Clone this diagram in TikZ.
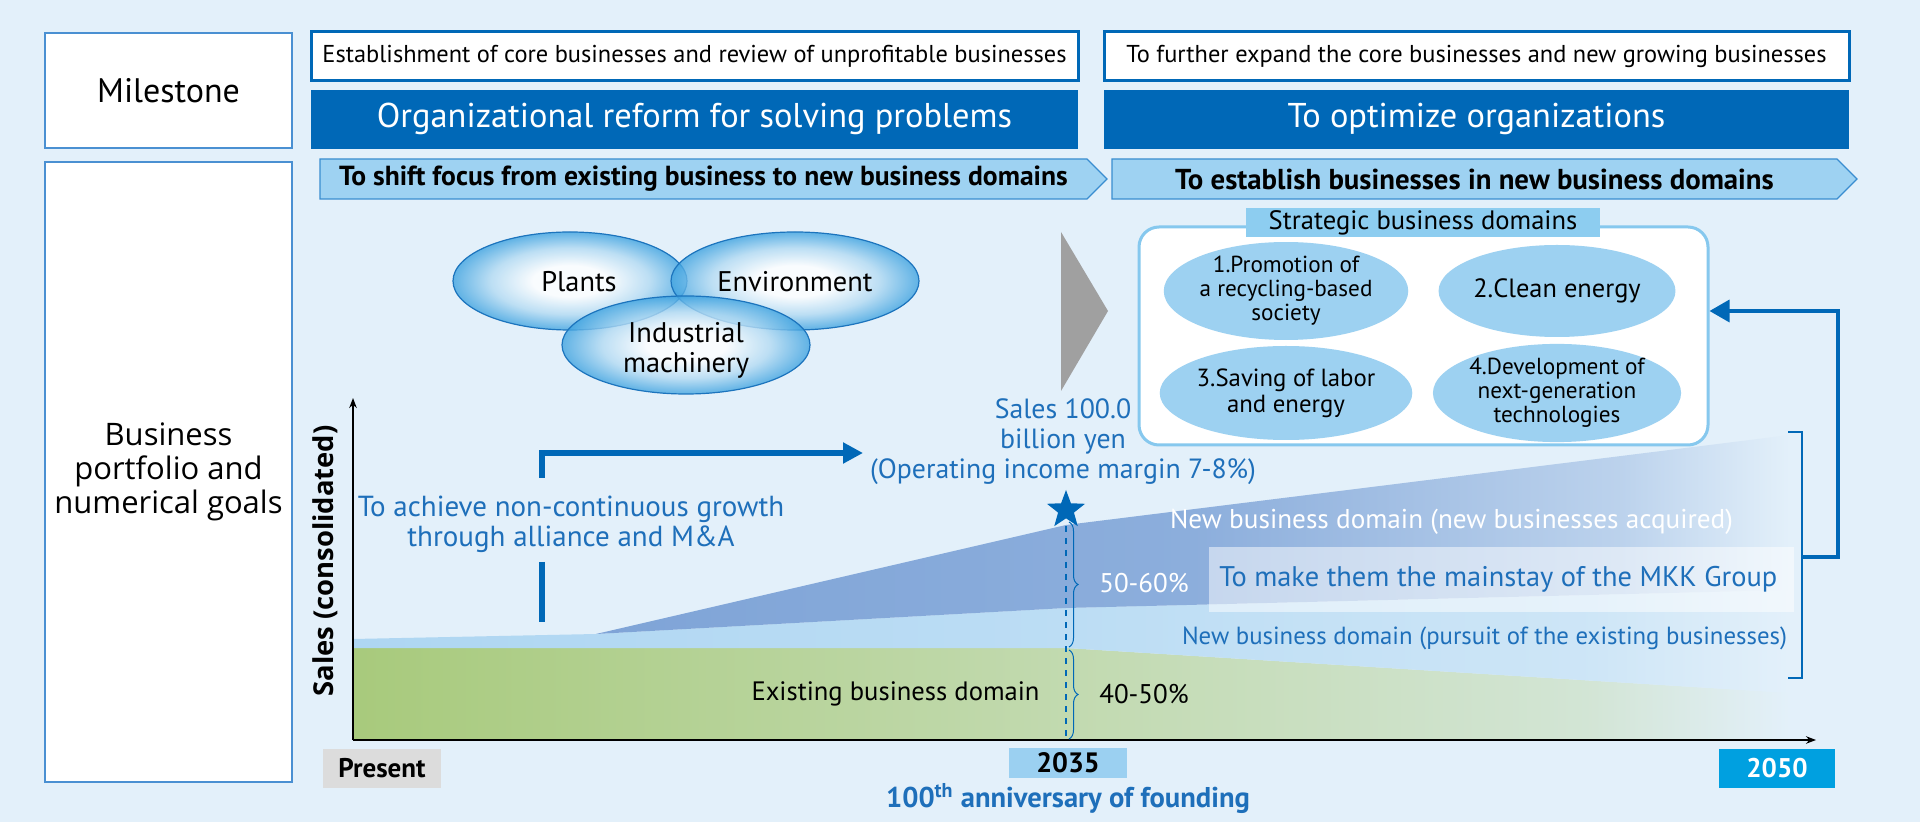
\documentclass[tikz,border=0pt]{standalone}
\usepackage{fontspec}
\setmainfont{PT Sans}
\newfontfamily\widefont{Open Sans}
\usetikzlibrary{shapes.geometric, shapes.symbols, arrows.meta, positioning, decorations.pathreplacing}
\definecolor{pagebg}{HTML}{E3F0FA}
\definecolor{framebl}{HTML}{4A90D2}
\definecolor{navyblue}{HTML}{0068B7}
\definecolor{txtblue}{HTML}{1E6FBA}
\definecolor{bannerfill}{HTML}{9ED2F2}
\definecolor{bannerdraw}{HTML}{3A8DD0}
\definecolor{venndraw}{HTML}{1C74BD}
\definecolor{vennfill}{HTML}{3FA3E0}
\definecolor{sbdframe}{HTML}{86C8EE}
\definecolor{sbdtitle}{HTML}{8DCDF0}
\definecolor{sbdell}{HTML}{9DD1F1}
\definecolor{triangray}{HTML}{A0A0A0}
\definecolor{presentgray}{HTML}{DCDCDC}
\definecolor{yearlight}{HTML}{9BD0F1}
\definecolor{yearcyan}{HTML}{00A0E0}
\definecolor{greenband}{HTML}{A8CA7C}
\definecolor{greenmid}{HTML}{C2DAB0}
\definecolor{lightband}{HTML}{AED6F2}
\definecolor{lightmid}{HTML}{BCDDF4}
\definecolor{darkband}{HTML}{7FA4D7}
\definecolor{darkmid}{HTML}{8CAEDC}
\pgfdeclareradialshading{vennshade}{\pgfpoint{0bp}{0bp}}{color(0bp)=(white); color(8bp)=(white); color(17bp)=(vennfill!40!white); color(25bp)=(vennfill); color(50bp)=(vennfill)}
\pgfdeclarehorizontalshading{greenfade}{100bp}{color(0bp)=(greenband); color(25bp)=(greenband); color(50bp)=(greenmid); color(68bp)=(greenmid!50!pagebg); color(75bp)=(pagebg); color(100bp)=(pagebg)}
\pgfdeclarehorizontalshading{lightfade}{100bp}{color(0bp)=(lightband); color(25bp)=(lightband); color(50bp)=(lightmid); color(68bp)=(lightmid!55!pagebg); color(75bp)=(pagebg); color(100bp)=(pagebg)}
\pgfdeclarehorizontalshading{darkfade}{100bp}{color(0bp)=(darkband); color(25bp)=(darkband); color(50bp)=(darkmid); color(68bp)=(darkmid!45!pagebg); color(75bp)=(pagebg); color(100bp)=(pagebg)}
\tikzset{
  headbox/.style={rectangle, draw=framebl, line width=0.8pt, fill=white,
    minimum width=123.5pt, align=center, font=\fontsize{17}{20}\selectfont},
  goalbox/.style={rectangle, draw=navyblue, line width=1.5pt, fill=white,
    minimum width=383.5pt, minimum height=24.5pt, inner sep=0pt,
    font=\fontsize{12.2}{14}\selectfont},
  reformbar/.style={rectangle, fill=navyblue, text=white, minimum width=383.5pt,
    minimum height=29.5pt, inner sep=0pt, font=\fontsize{17.2}{20}\selectfont},
  banner/.style={signal, signal to=east, signal pointer angle=90, fill=bannerfill,
    draw=bannerdraw, line width=0.6pt, minimum height=20pt, inner sep=0pt,
    font=\bfseries\fontsize{13.8}{16}\selectfont},
  vennell/.style={ellipse, draw=venndraw, line width=0.6pt, shading=vennshade,
    fill opacity=0.8, minimum height=49pt, inner sep=0pt},
  vennlabel/.style={align=center, font=\fontsize{14.2}{15}\selectfont},
  domainell/.style={ellipse, fill=sbdell, minimum width=118pt, minimum height=46pt,
    inner sep=0pt, align=center, font=\fontsize{11.6}{12}\selectfont},
  bluetext/.style={text=txtblue, align=center, font=\fontsize{14}{15}\selectfont},
  bandtext/.style={font=\fontsize{13.5}{15}\selectfont},
  yearbox/.style={rectangle, inner sep=0pt, font=\bfseries\fontsize{13.5}{15}\selectfont},
  brace/.style={draw=navyblue, line width=0.5pt, decorate,
    decoration={brace, amplitude=4.5pt}},
  growarrow/.style={-{Triangle[length=10pt, width=10pt]}, line width=3pt, color=navyblue},
  bigconn/.style={-{Triangle[length=10pt, width=11pt]}, line width=1.75pt, color=navyblue},
}
\begin{document}
\begin{tikzpicture}[x=0.5pt, y=-0.5pt]
\fill[pagebg] (0,0) rectangle (1920,822);
\useasboundingbox (0,0) rectangle (1920,822);

% row headers
\node[headbox, minimum height=57.5pt] (mile) at (168.5,90.5) {Milestone};
\node[headbox, minimum height=310pt, font=\widefont\fontsize{15.5}{17}\selectfont]
  (port) at (168.5,472) {Business\\portfolio and\\numerical goals};

% milestones
\node[goalbox] (estab) at (694.5,56.5)
  {Establishment of core businesses and review of unprofitable businesses};
\node[goalbox, right=11.5pt of estab, minimum width=372.5pt] (expand)
  {To further expand the core businesses and new growing businesses};
\node[reformbar, below=3.5pt of estab] (reform) {Organizational reform for solving problems};
\node[reformbar, below=3.5pt of expand, minimum width=372.5pt] (optim) {To optimize organizations};
\node[banner, minimum width=393.5pt] (shift) at (703.5,179)
  {To shift focus from existing business to new business domains};
\node[banner, minimum width=372.5pt, font=\bfseries\fontsize{14.4}{16}\selectfont] (estnew) at (1474.5,179)
  {To establish businesses in new business domains};

% current businesses
\node[vennell, minimum width=117pt] (plants) at (570,281) {};
\node[vennell, minimum width=124pt] (env) at (795,281) {};
\node[vennell, minimum width=124pt] (indus) at (686,345) {};
\node[vennlabel] at (579,282) {Plants};
\node[vennlabel] at (795,282) {Environment};
\node[vennlabel] at (686,350) {Industrial\\machinery};

\fill[triangray] (1061,232) -- (1108,311) -- (1061,391) -- cycle;

% strategic domains
\node[rectangle, draw=sbdframe, line width=1.5pt, fill=white, rounded corners=10pt,
  minimum width=284.5pt, minimum height=109pt] (sbd) at (1423.5,336) {};
\node[rectangle, fill=sbdtitle, minimum width=177pt, minimum height=14.5pt, inner sep=0pt,
  font=\fontsize{13.3}{15}\selectfont] (sbdtitle) at (1423,222.5) {Strategic business domains};
\node[domainell] (dom1) at (1286,291) {1.Promotion of\\a recycling-based\\society};
\node[domainell, font=\fontsize{13.2}{14}\selectfont] (dom2) at (1557,291) {2.Clean energy};
\node[domainell, minimum height=47pt, font=\fontsize{12.4}{13}\selectfont] (dom3) at (1286,393) {3.Saving of labor\\and energy};
\node[domainell, minimum height=47pt] (dom4) at (1557,393) {4.Development of\\next-generation\\technologies};

% sales bands
\shade[shading=greenfade]
  (353,740) -- (353,648) -- (1066,648) -- (1790,693) -- (1790,740) -- cycle;
\shade[shading=lightfade]
  (353,648) -- (353,639) -- (596,634) -- (1066,608) -- (1790,590) -- (1790,693)
  -- (1066,648) -- cycle;
\shade[shading=darkfade]
  (596,634) -- (1066,525) -- (1790,435) -- (1790,590) -- (1066,608) -- cycle;

% axes
\coordinate (origin) at (353,740);
\draw[-{Stealth[length=5pt]}, line width=0.8pt] (origin) -- (353,398);
\draw[-{Stealth[length=5pt]}, line width=0.8pt] (origin) -- (1816,740);
\node[rotate=90, font=\widefont\bfseries\fontsize{13.7}{15}\selectfont] (salesaxis) at (325,561)
  {Sales (consolidated)};

\node[fill=white, fill opacity=0.5, anchor=west, minimum width=292.5pt,
  minimum height=32.5pt] (mainbox) at (1209,579.5) {};
\node[anchor=west, inner sep=0pt, text=txtblue, font=\fontsize{14.2}{15}\selectfont]
  (mainstay) at ([xshift=5pt]mainbox.west) {To make them the mainstay of the MKK Group};
\node[bandtext, text=white, font=\fontsize{13.6}{15}\selectfont] (acq) at (1451.5,522)
  {New business domain (new businesses acquired)};
\node[bandtext, text=txtblue, font=\fontsize{12.4}{15}\selectfont] (pursuit) at (1484.5,638)
  {New business domain (pursuit of the existing businesses)};
\node[font=\fontsize{13.3}{15}\selectfont] (exist) at (895.5,694) {Existing business domain};

% 2035 target
\node[star, star points=5, star point ratio=2.4, fill=navyblue, minimum size=20pt, inner sep=0pt]
  (target) at (1066,510) {};
\draw[dashed, navyblue, line width=0.8pt] (target.center) ++(0,16) -- (target |- origin);
\draw[brace] (1069,522) -- (1069,647);
\draw[brace] (1069,650) -- (1069,739);
\node[bandtext, text=white] (upper) at (1144,583) {50-60\%};
\node[bandtext] (lower) at (1144,694) {40-50\%};
\node[bluetext, font=\fontsize{13.9}{15}\selectfont] (sales) at (1063,442)
  {Sales 100.0\\billion yen\\(Operating income margin 7-8\%)};

% alliance and M&A
\coordinate (growbase) at (542,478);
\draw[growarrow] (growbase) |- ([yshift=-5.5pt]sales.west);
\node[bluetext, font=\fontsize{14.5}{15}\selectfont] (alliance) at (571,524)
  {To achieve non-continuous growth\\through alliance and M\&A};
\draw[line width=3pt, navyblue] (542,562) -- (542,622);

% years
\node[yearbox, fill=presentgray, minimum width=59pt, minimum height=19.5pt] (present) at (382,768.5) {Present};
\node[yearbox, fill=yearlight, minimum width=59pt, minimum height=15pt, font=\bfseries\fontsize{14}{15}\selectfont]
  (y2035) at (1068,763) {2035};
\node[text=txtblue, font=\bfseries\fontsize{14.3}{15}\selectfont, below=-1pt of y2035] (anniv)
  {100\textsuperscript{th} anniversary of founding};
\node[yearbox, fill=yearcyan, text=white, minimum width=58pt, minimum height=19.5pt] (y2050) at (1777,768.5) {2050};

% feedback to strategic domains
\coordinate (brk) at (1802,557);
\coordinate (bend) at (1838,311);
\draw[navyblue, line width=0.8pt] (1788,432) -- (1802,432) -- (1802,678) -- (1788,678);
\draw[bigconn] (brk) -| (bend) -- (sbd.east |- bend);
\end{tikzpicture}
\end{document}
